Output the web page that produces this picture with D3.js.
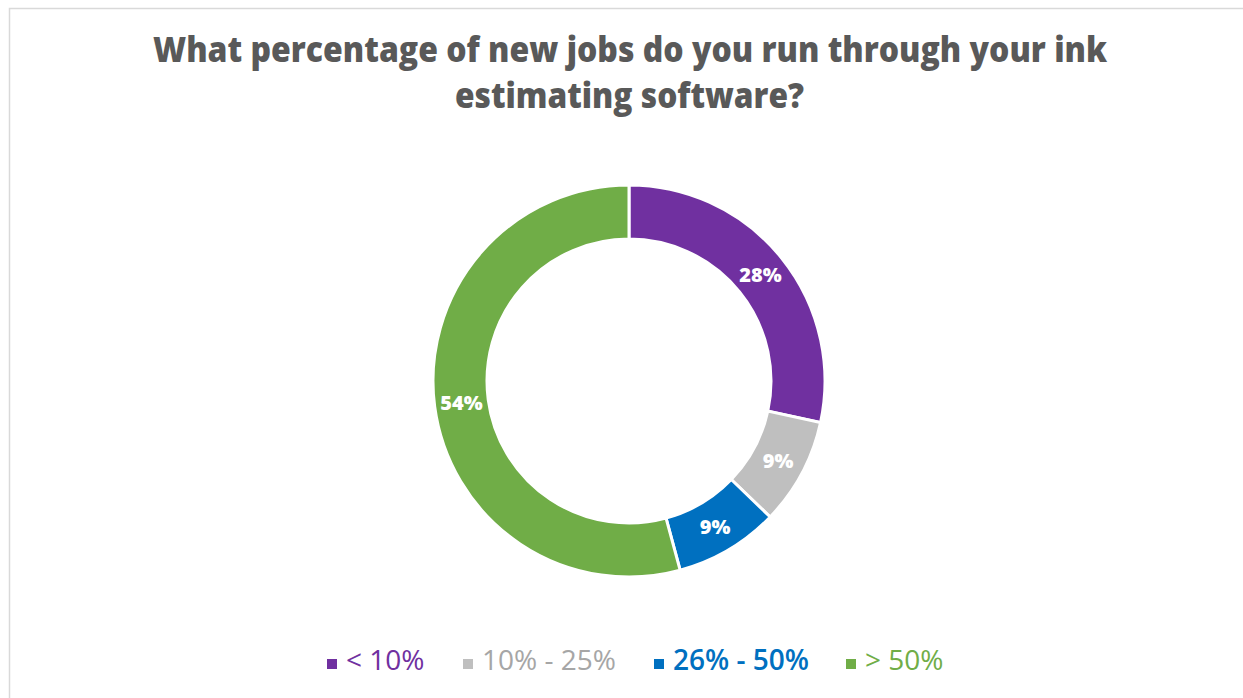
<!DOCTYPE html>
<html>
<head>
<meta charset="utf-8">
<script src="https://cdn.jsdelivr.net/npm/d3@7"></script>
<style>
  html, body { margin: 0; padding: 0; background: #fff; }
  svg { display: block; }
</style>
</head>
<body>
<svg id="chart" width="1243" height="698"></svg>
<script>
const titleLines = ["What percentage of new jobs do you run through your ink", "estimating software?"];
const categories = ["< 10%", "10% - 25%", "26% - 50%", "> 50%"];
const values = [28.4, 8.8, 8.6, 54.2];
const colors = ["#7030A0", "#BFBFBF", "#0070C0", "#70AD47"];
const legendTextColors = ["#7030A0", "#A6A6A6", "#0070C0", "#70AD47"];

const svg = d3.select("#chart");

// border
svg.append("rect")
  .attr("x", 9.5).attr("y", 8.5)
  .attr("width", 1300).attr("height", 800)
  .attr("fill", "none").attr("stroke", "#D9D9D9").attr("stroke-width", 1.5);

// title
const titleSpec = [
  { y: 62, x0: 153, x1: 1107 },
  { y: 108, x0: 455, x1: 804 }
];
titleLines.forEach((t, i) => {
  svg.append("text")
    .attr("x", (titleSpec[i].x0 + titleSpec[i].x1) / 2)
    .attr("y", titleSpec[i].y)
    .attr("text-anchor", "middle")
    .attr("font-family", "Open Sans")
    .attr("font-weight", 800)
    .attr("font-size", 35)
    .attr("fill", "#595959")
    .attr("textLength", titleSpec[i].x1 - titleSpec[i].x0)
    .attr("lengthAdjust", "spacingAndGlyphs")
    .text(t);
});

// donut
const cx = 629, cy = 381, rOuter = 196, rInner = 142;
const data = categories.map((c, i) => ({ cat: c, value: values[i], color: colors[i] }));
const pie = d3.pie().sort(null).value(d => d.value);
const arc = d3.arc().innerRadius(rInner).outerRadius(rOuter);
const arcs = pie(data);
const total = d3.sum(values);

const g = svg.append("g").attr("transform", `translate(${cx},${cy})`);
g.selectAll("path.slice")
  .data(arcs)
  .join("path")
  .attr("class", "slice")
  .attr("d", arc)
  .attr("fill", d => d.data.color)
  .attr("stroke", "#fff")
  .attr("stroke-width", 3);

g.selectAll("text.lbl")
  .data(arcs)
  .join("text")
  .attr("class", "lbl")
  .attr("transform", d => `translate(${arc.centroid(d)})`)
  .attr("text-anchor", "middle")
  .attr("dy", "0.36em")
  .attr("font-family", "Open Sans")
  .attr("font-weight", 800)
  .attr("font-size", 20)
  .attr("fill", "#fff")
  .text(d => Math.round(d.data.value / total * 100) + "%");

// legend
const legendX = [327, 463, 654, 846];
const legendY = 670;
const lg = svg.append("g");
categories.forEach((c, i) => {
  const item = lg.append("g");
  item.append("rect")
    .attr("x", legendX[i]).attr("y", legendY - 11)
    .attr("width", 10).attr("height", 10)
    .attr("fill", colors[i]);
  item.append("text")
    .attr("x", legendX[i] + 19)
    .attr("y", legendY)
    .attr("font-family", "Open Sans")
    .attr("font-weight", i === 2 ? 600 : 400)
    .attr("font-size", 28)
    .attr("fill", legendTextColors[i])
    .text(c);
});
</script>
</body>
</html>
